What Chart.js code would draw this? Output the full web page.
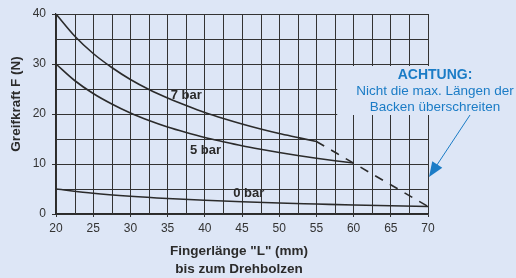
<!DOCTYPE html>
<html lang="de">
<head>
<meta charset="UTF-8">
<title>Greifkraft</title>
<script src="https://cdn.jsdelivr.net/npm/chart.js"></script>
<style>
  html, body { margin: 0; padding: 0; background: #dde6f6; }
  #wrap { width: 516px; height: 278px; }
</style>
</head>
<body>
<div id="wrap"><canvas id="chart"></canvas></div>
<script>
// Fingerlänge (mm) -> Greifkraft (N)
var len7 = [20, 22.5, 25, 27.5, 30, 32.5, 35, 37.5, 40, 42.5, 45, 47.5, 50, 52.5, 55];
var force7 = [40, 35.6, 32.1, 29.3, 26.9, 24.9, 23.2, 21.7, 20.3, 19.1, 18.0, 17.0, 16.1, 15.3, 14.5];
var len5 = [20, 22.5, 25, 27.5, 30, 32.5, 35, 37.5, 40, 42.5, 45, 47.5, 50, 52.5, 55, 57.5, 60];
var force5 = [30, 26.7, 24.1, 22.0, 20.2, 18.7, 17.4, 16.3, 15.3, 14.45, 13.65, 12.95, 12.3, 11.7, 11.15, 10.65, 10.2];
var len0 = [20, 25, 30, 35, 40, 45, 50, 55, 60, 65, 70];
var force0 = [5, 4.15, 3.55, 3.1, 2.75, 2.45, 2.2, 2.0, 1.8, 1.65, 1.5];
var limitLen = [55, 70];
var limitForce = [14.5, 1.5];
var curveLabels = [['7 bar', 37.5, 23.8], ['5 bar', 40.1, 12.8], ['0 bar', 45.9, 4.2]];

// Zwischenlinien des Rasters (ohne Beschriftung)
var xMinor = [22.5, 27.5, 32.5, 37.5, 42.5, 47.5, 52.5, 57.5, 62.5, 67.5];
var yMinor = [5, 15, 25, 35];

var bg = '#dde6f6';
var ink = '#2b2b2b';
var gridCol = '#333';
var blue = '#1b7cc6';
var fontFam = '"Liberation Sans", Arial, sans-serif';

function pts(xs, ys) {
  return xs.map(function (x, i) { return { x: x, y: ys[i] }; });
}

function curve(xs, ys, dash) {
  return {
    data: pts(xs, ys),
    borderColor: ink,
    borderWidth: 1.6,
    borderDash: dash || [],
    pointRadius: 0,
    tension: dash ? 0 : 0.4,
    cubicInterpolationMode: 'monotone',
    fill: false
  };
}

var extras = {
  id: 'extras',
  beforeDraw: function (chart) {
    var c = chart.ctx;
    c.save();
    c.fillStyle = bg;
    c.fillRect(0, 0, chart.width, chart.height);
    c.restore();
  },
  beforeDatasetsDraw: function (chart) {
    var c = chart.ctx, x = chart.scales.x, y = chart.scales.y, a = chart.chartArea;
    c.save();
    c.strokeStyle = gridCol;
    c.lineWidth = 1;
    c.beginPath();
    xMinor.forEach(function (v) {
      var px = Math.round(x.getPixelForValue(v)) + 0.5;
      c.moveTo(px, a.top);
      c.lineTo(px, a.bottom);
    });
    yMinor.forEach(function (v) {
      var py = Math.round(y.getPixelForValue(v)) + 0.5;
      c.moveTo(a.left, py);
      c.lineTo(a.right, py);
    });
    c.stroke();

    // Feld hinter dem Hinweis, verdeckt das Raster
    c.fillStyle = bg;
    var l = x.getPixelForValue(57.8), t = y.getPixelForValue(29.6), b = y.getPixelForValue(19.8);
    c.fillRect(l, t, chart.width - l, b - t);
    c.restore();
  },
  afterDatasetsDraw: function (chart) {
    var c = chart.ctx, x = chart.scales.x, y = chart.scales.y;
    c.save();
    c.fillStyle = ink;
    c.textAlign = 'center';
    c.textBaseline = 'middle';
    c.font = 'bold 13px ' + fontFam;
    curveLabels.forEach(function (l) {
      c.fillText(l[0], x.getPixelForValue(l[1]), y.getPixelForValue(l[2]));
    });

    // Achsentitel
    c.font = 'bold 13.5px ' + fontFam;
    c.fillText('Fingerlänge "L" (mm)', 239, 251);
    c.fillText('bis zum Drehbolzen', 239, 269);
    c.save();
    c.translate(16, 104);
    c.rotate(-Math.PI / 2);
    c.fillText('Greifkraft F (N)', 0, 0);
    c.restore();

    // Hinweis
    c.fillStyle = blue;
    c.font = 'bold 14px ' + fontFam;
    c.fillText('ACHTUNG:', 435, 75);
    c.font = '13.5px ' + fontFam;
    c.fillText('Nicht die max. Längen der', 435, 91.5);
    c.fillText('Backen überschreiten', 435, 107);

    // Pfeil
    var x1 = 470, y1 = 115, x2 = 429, y2 = 177;
    var ang = Math.atan2(y2 - y1, x2 - x1);
    c.strokeStyle = blue;
    c.lineWidth = 1;
    c.beginPath();
    c.moveTo(x1, y1);
    c.lineTo(x2 - 10 * Math.cos(ang), y2 - 10 * Math.sin(ang));
    c.stroke();
    c.beginPath();
    c.moveTo(x2, y2);
    c.lineTo(x2 - 15 * Math.cos(ang) + 6 * Math.sin(ang), y2 - 15 * Math.sin(ang) - 6 * Math.cos(ang));
    c.lineTo(x2 - 15 * Math.cos(ang) - 6 * Math.sin(ang), y2 - 15 * Math.sin(ang) + 6 * Math.cos(ang));
    c.closePath();
    c.fill();
    c.restore();
  }
};

new Chart(document.getElementById('chart'), {
  type: 'line',
  data: {
    datasets: [
      curve(len7, force7),
      curve(len5, force5),
      curve(len0, force0),
      curve(limitLen, limitForce, [9, 8])
    ]
  },
  options: {
    responsive: true,
    maintainAspectRatio: false,
    animation: false,
    layout: { padding: { left: 0, right: 88, top: 14, bottom: 0 } },
    plugins: { legend: { display: false }, tooltip: { enabled: false } },
    scales: {
      x: {
        type: 'linear',
        min: 20,
        max: 70,
        afterFit: function (s) { s.height = 64; },
        border: { color: ink, width: 1.2 },
        grid: { color: gridCol, lineWidth: 1, tickLength: 3, tickColor: gridCol },
        ticks: {
          stepSize: 5,
          autoSkip: false,
          maxRotation: 0,
          padding: 4,
          color: '#333',
          font: { family: fontFam, size: 12 }
        }
      },
      y: {
        min: 0,
        max: 40,
        afterFit: function (s) { s.width = 56; },
        border: { color: ink, width: 1.2 },
        grid: { color: gridCol, lineWidth: 1, tickLength: 4, tickColor: gridCol },
        ticks: {
          stepSize: 10,
          autoSkip: false,
          padding: 6,
          color: '#333',
          font: { family: fontFam, size: 12 }
        }
      }
    }
  },
  plugins: [extras]
});
</script>
</body>
</html>
